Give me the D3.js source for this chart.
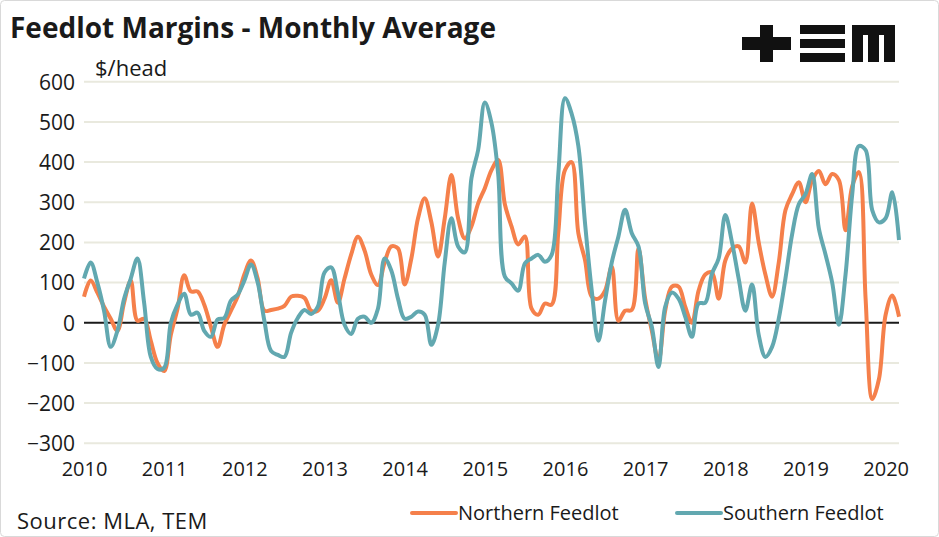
<!DOCTYPE html>
<html>
<head>
<meta charset="utf-8">
<script src="https://cdn.jsdelivr.net/npm/d3@7"></script>
<style>
  body { margin: 0; background: #fff; }
  text { font-family: "Open Sans", sans-serif; fill: #1a1a1a; }
</style>
</head>
<body>
<div id="container"></div>
<script>
'use strict'
// monthly averages, Jan 2010 .. Mar 2020 ($/head)
const years = ['2010','2011','2012','2013','2014','2015','2016','2017','2018','2019','2020'];
const yTicks = [600, 500, 400, 300, 200, 100, 0, -100, -200, -300];

const northern = [
  65, 105, 75, 40, 10, -20, 50, 105, 5, 10, -45, -100,
  -120, -30, 35, 118, 78, 78, 45, -10, -60, -5, 30, 65,
  120, 155, 110, 30, 32, 35, 42, 65, 67, 62, 30, 30,
  60, 106, 50, 110, 170, 214, 180, 120, 94, 150, 190, 185,
  95, 160, 260, 310, 250, 165, 260, 368, 260, 210, 240, 297,
  335, 380, 405, 295, 240, 195, 215, 35, 20, 48, 45, 225,
  380, 400, 223, 156, 65, 60, 80, 140, 5, 30, 32, 185,
  60, -20, -95, 30, 90, 90, 40, 0, 80, 120, 125, 60,
  155, 185, 190, 150, 297, 200, 120, 65, 150, 280, 320, 350,
  300, 355, 378, 345, 370, 355, 230, 340, 375, 60, -190, -140,
  20, 68, 15
];
const southern = [
  110, 150, 100, 30, -60, -20, 60, 110, 160, 50, -85, -115,
  -112, 0, 45, 72, 20, 25, -20, -35, 8, 12, 55, 70,
  105, 145, 100, 5, -70, -80, -85, -25, 12, 32, 22, 40,
  125, 138, 75, -5, -28, 10, 15, 0, 35, 160, 130, 60,
  10, 15, 28, 20, -55, -5, 150, 260, 190, 175, 360, 430,
  548, 497, 370, 115, 98, 80, 148, 160, 169, 152, 169, 370,
  559, 520, 440, 248, 81, -45, 55, 150, 215, 281, 223, 190,
  48, -10, -110, 40, 75, 60, 15, -35, 48, 50, 122, 160,
  268, 200, 110, 30, 95, -30, -85, -60, 10, 110, 220, 295,
  320, 370, 235, 170, 100, -5, 120, 320, 440, 430, 280, 250,
  260, 325, 206
];

const w = 939, h = 537;
const plotLeft = 84, plotRight = 899, plotTop = 81.7, plotBottom = 443.3;
const orange = '#f5804b', teal = '#62a8b0';

const svg = d3.select('#container').append('svg')
  .attr('width', w).attr('height', h);

svg.append('rect').attr('x', 0.5).attr('y', 0.5).attr('width', w - 1).attr('height', h - 1)
  .attr('rx', 4).attr('fill', '#fff').attr('stroke', '#d9d9d9');

// Scales
const xScale = d3.scaleLinear().domain([0, northern.length - 1]).range([plotLeft, plotRight]);
const yScale = d3.scaleLinear().domain([-300, 600]).range([plotBottom, plotTop]);

// Grid
svg.append('g').selectAll('line').data(yTicks).enter().append('line')
  .attr('x1', plotLeft).attr('x2', plotRight)
  .attr('y1', d => yScale(d)).attr('y2', d => yScale(d))
  .attr('stroke', d => d === 0 ? '#1a1a1a' : '#e9e9de')
  .attr('stroke-width', 2);

// Y axis
const yAxis = d3.axisLeft(yScale).tickValues(yTicks).tickSize(0).tickPadding(0);
const gy = svg.append('g').attr('transform', 'translate(75,0)').call(yAxis);
gy.select('.domain').remove();
gy.selectAll('text').style('font-size', '21px').style('font-family', '"Open Sans", sans-serif')
  .attr('fill', '#1a1a1a').attr('dy', '0.35em');

// X axis
const xAxis = d3.axisBottom(xScale)
  .tickValues(years.map((y, i) => i * 12))
  .tickFormat((d, i) => years[i]).tickSize(0).tickPadding(0);
const gx = svg.append('g').attr('transform', 'translate(0,476)').call(xAxis);
gx.select('.domain').remove();
gx.selectAll('text').style('font-size', '20px').style('font-family', '"Open Sans", sans-serif')
  .attr('fill', '#1a1a1a').attr('dy', 0);

// Lines
const line = d3.line()
  .x((d, i) => xScale(i))
  .y(d => yScale(d))
  .curve(d3.curveCatmullRom.alpha(0.5));

svg.append('path').datum(northern).attr('d', line)
  .attr('fill', 'none').attr('stroke', orange).attr('stroke-width', 4).attr('stroke-linejoin', 'round');
svg.append('path').datum(southern).attr('d', line)
  .attr('fill', 'none').attr('stroke', teal).attr('stroke-width', 4).attr('stroke-linejoin', 'round');

// Texts
svg.append('text').text('Feedlot Margins - Monthly Average')
  .attr('x', 10).attr('y', 38).style('font-size', '28px').style('font-weight', '700');
svg.append('text').text('$/head')
  .attr('x', 95).attr('y', 76).style('font-size', '22px');
svg.append('text').text('Source: MLA, TEM')
  .attr('x', 17).attr('y', 529).style('font-size', '22px').style('letter-spacing', '0.5px');

// Legend
const legend = [{name: 'Northern Feedlot', color: orange, x: 412}, {name: 'Southern Feedlot', color: teal, x: 677}];
legend.forEach(l => {
  svg.append('line').attr('x1', l.x).attr('x2', l.x + 44).attr('y1', 513).attr('y2', 513)
    .attr('stroke', l.color).attr('stroke-width', 4).attr('stroke-linecap', 'round');
  svg.append('text').text(l.name).attr('x', l.x + 46).attr('y', 520).style('font-size', '20px');
});

// TEM logo
const logo = svg.append('g').attr('fill', '#111');
logo.append('rect').attr('x', 760).attr('y', 25).attr('width', 13).attr('height', 37);
logo.append('rect').attr('x', 742).attr('y', 37).attr('width', 49).attr('height', 13);
[25, 39, 53].forEach(y => logo.append('rect').attr('x', 800).attr('y', y).attr('width', 45).attr('height', 9));
logo.append('rect').attr('x', 852).attr('y', 25).attr('width', 43).attr('height', 10);
[852, 868, 884].forEach(x => logo.append('rect').attr('x', x).attr('y', 25).attr('width', 11).attr('height', 37));
</script>
</body>
</html>
